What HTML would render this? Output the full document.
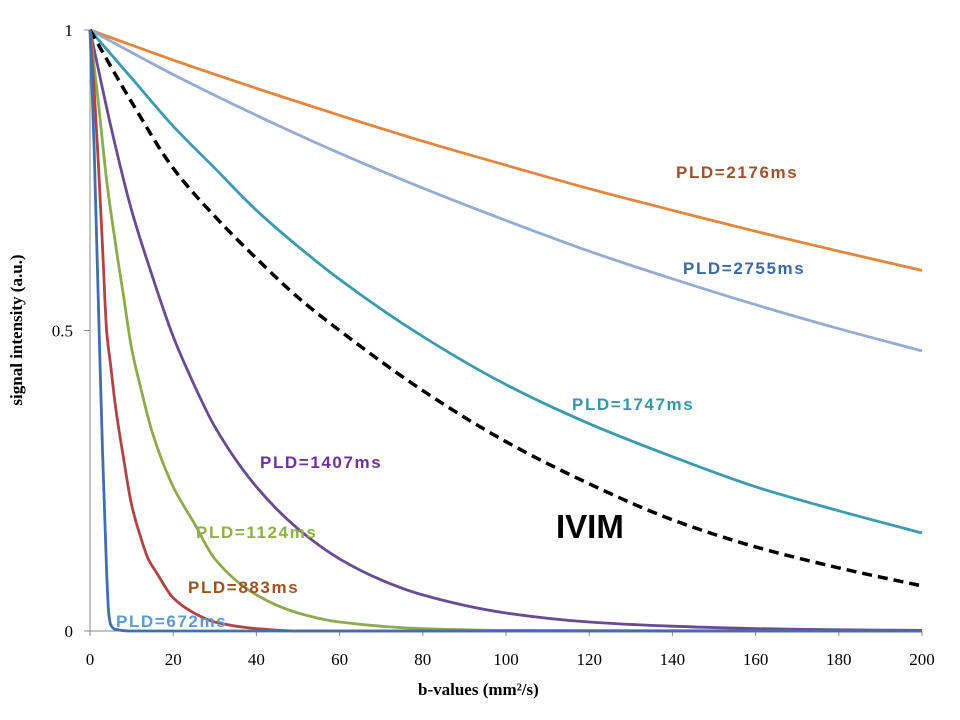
<!DOCTYPE html>
<html><head><meta charset="utf-8"><style>
html,body{margin:0;padding:0;background:#fff;width:960px;height:720px;overflow:hidden}
svg{display:block}
.tk{font-family:"Liberation Serif",serif;font-size:17px;fill:#000}
.lb{font-family:"Liberation Sans",sans-serif;font-weight:bold;font-size:17px;letter-spacing:1.6px}
</style></head><body>
<svg id="chart" width="960" height="720" xmlns="http://www.w3.org/2000/svg">
<g id="axes"></g>
<g id="series"></g>
<g id="labels">
<text class="lb" x="676" y="178" fill="#a0522d">PLD=2176ms</text>
<text class="lb" x="683" y="274" fill="#3b6aa0">PLD=2755ms</text>
<text class="lb" x="572" y="410" fill="#3596a8">PLD=1747ms</text>
<text class="lb" x="260" y="468" fill="#7030a0">PLD=1407ms</text>
<text class="lb" x="196" y="538" fill="#8db048">PLD=1124ms</text>
<text class="lb" x="188" y="593" fill="#a0521e">PLD=883ms</text>
<text class="lb" x="116" y="627" fill="#5b9bd5">PLD=672ms</text>
<text x="556" y="538" font-family="Liberation Sans,sans-serif" font-weight="bold" font-size="33" fill="#000">IVIM</text>
</g>
<text x="418" y="695" font-family="Liberation Serif,serif" font-weight="bold" font-size="17">b-values (mm²/s)</text>
<text transform="translate(22,330) rotate(-90)" text-anchor="middle" font-family="Liberation Serif,serif" font-weight="bold" font-size="17">signal intensity (a.u.)</text>
</svg>
<script>
const xTicks=[0,20,40,60,80,100,120,140,160,180,200];
const yTicks=[0,0.5,1];
const yTickLabels=["0","0.5","1"];
const bOrange=[0,20,40,60,80,100,120,140,160,180,200];
const vOrange=[1,.95,.903,.858,.815,.775,.736,.70,.665,.632,.60];
const bLightBlue=[0,20,40,60,80,100,120,140,160,180,200];
const vLightBlue=[1,.926,.858,.795,.737,.683,.632,.586,.543,.503,.466];
const bTeal=[0,10,20,30,40,50,60,80,100,120,140,160,180,200];
const vTeal=[1,.92,.84,.77,.70,.64,.585,.49,.41,.345,.29,.24,.20,.163];
const bIvim=[0,10,20,30,40,50,60,80,100,120,140,160,180,200];
const vIvim=[1,.88,.77,.69,.62,.555,.5,.4,.315,.245,.185,.14,.105,.075];
const bPurple=[0,5,10,15,20,25,30,40,50,60,70,80,100,120,140,160,180,200];
const vPurple=[1,.84,.7,.59,.49,.41,.34,.24,.17,.12,.085,.06,.03,.015,.008,.004,.002,.001];
const bGreen=[0,2,4,6,8,10,12,15,20,25,30,40,50,60,80,100,200];
const vGreen=[1,.88,.75,.65,.56,.47,.41,.33,.24,.18,.12,.06,.03,.015,.004,.001,0];
const bRed=[0,1,2,3,4,5,6,8,10,12,14,16,20,25,30,40,50,200];
const vRed=[1,.9,.78,.64,.5,.44,.38,.29,.21,.16,.12,.097,.055,.03,.015,.004,0,0];
const bBlue=[0,1,2,3,4,4.5,5,6,10,200];
const vBlue=[1,.8,.55,.3,.1,.03,.01,.003,0,0];

const X0=90,X1=922,Y0=631,Y1=30;
const sx=b=>X0+(b/200)*(X1-X0);
const sy=v=>Y0-v*(Y0-Y1);
const NS="http://www.w3.org/2000/svg";
const axes=document.getElementById('axes');
function mk(tag,attrs,parent){const e=document.createElementNS(NS,tag);for(const k in attrs)e.setAttribute(k,attrs[k]);parent.appendChild(e);return e;}
let a=mk('line',{x1:X0,y1:Y1,x2:X0,y2:Y0,stroke:'#888','stroke-width':1},axes);


a=mk('line',{x1:X0,y1:Y0,x2:X1,y2:Y0,stroke:'#888','stroke-width':1},axes);


xTicks.forEach(t=>{
 const l=mk('line',{x1:sx(t),y1:Y0,x2:sx(t),y2:Y0+5,stroke:'#888'},axes);
 
 
 const tx=mk('text',{x:sx(t),y:Y0+34,'text-anchor':'middle',class:'tk'},axes);
 tx.textContent=t;
 
 
});
yTicks.forEach((t,i)=>{
 const l=mk('line',{x1:X0-6,y1:sy(t),x2:X0,y2:sy(t),stroke:'#888'},axes);
 
 
 const tx=mk('text',{x:X0-17,y:sy(t)+6,'text-anchor':'end',class:'tk'},axes);
 tx.textContent=yTickLabels[i];
 
 
});
function monoPath(xs,ys){
 const n=xs.length,dx=[],m=[],t=[];
 for(let i=0;i<n-1;i++){dx.push(xs[i+1]-xs[i]);m.push((ys[i+1]-ys[i])/dx[i]);}
 t[0]=m[0];t[n-1]=m[n-2];
 for(let i=1;i<n-1;i++){ if(m[i-1]*m[i]<=0)t[i]=0; else {const w1=2*dx[i]+dx[i-1],w2=dx[i]+2*dx[i-1];t[i]=(w1+w2)/(w1/m[i-1]+w2/m[i]);} }
 let d='M'+xs[0].toFixed(1)+','+ys[0].toFixed(1);
 for(let i=0;i<n-1;i++){const h=dx[i]/3;
  d+=' C'+(xs[i]+h).toFixed(1)+','+(ys[i]+t[i]*h).toFixed(1)+' '+(xs[i+1]-h).toFixed(1)+','+(ys[i+1]-t[i+1]*h).toFixed(1)+' '+xs[i+1].toFixed(1)+','+ys[i+1].toFixed(1);}
 return d;
}
const ser=document.getElementById('series');
function draw(bs,vs,color,name,dash){
 const d=monoPath(bs.map(sx),vs.map(sy));
 const p=mk('path',{d:d,fill:'none',stroke:color,'stroke-width':dash?3.5:2.8,'stroke-linejoin':'round'},ser);
 if(dash)p.setAttribute('stroke-dasharray','10,6');
 
 
}
draw(bOrange,vOrange,'#e5843a','line-pld-2176');
draw(bLightBlue,vLightBlue,'#94abd4','line-pld-2755');
draw(bTeal,vTeal,'#3a9bb0','line-pld-1747');
draw(bIvim,vIvim,'#000','line-ivim',true);
draw(bPurple,vPurple,'#6a4a92','line-pld-1407');
draw(bGreen,vGreen,'#8cac4c','line-pld-1124');
draw(bRed,vRed,'#b04444','line-pld-883');
draw(bBlue,vBlue,'#3f6fae','line-pld-672');
</script>
</body></html>
